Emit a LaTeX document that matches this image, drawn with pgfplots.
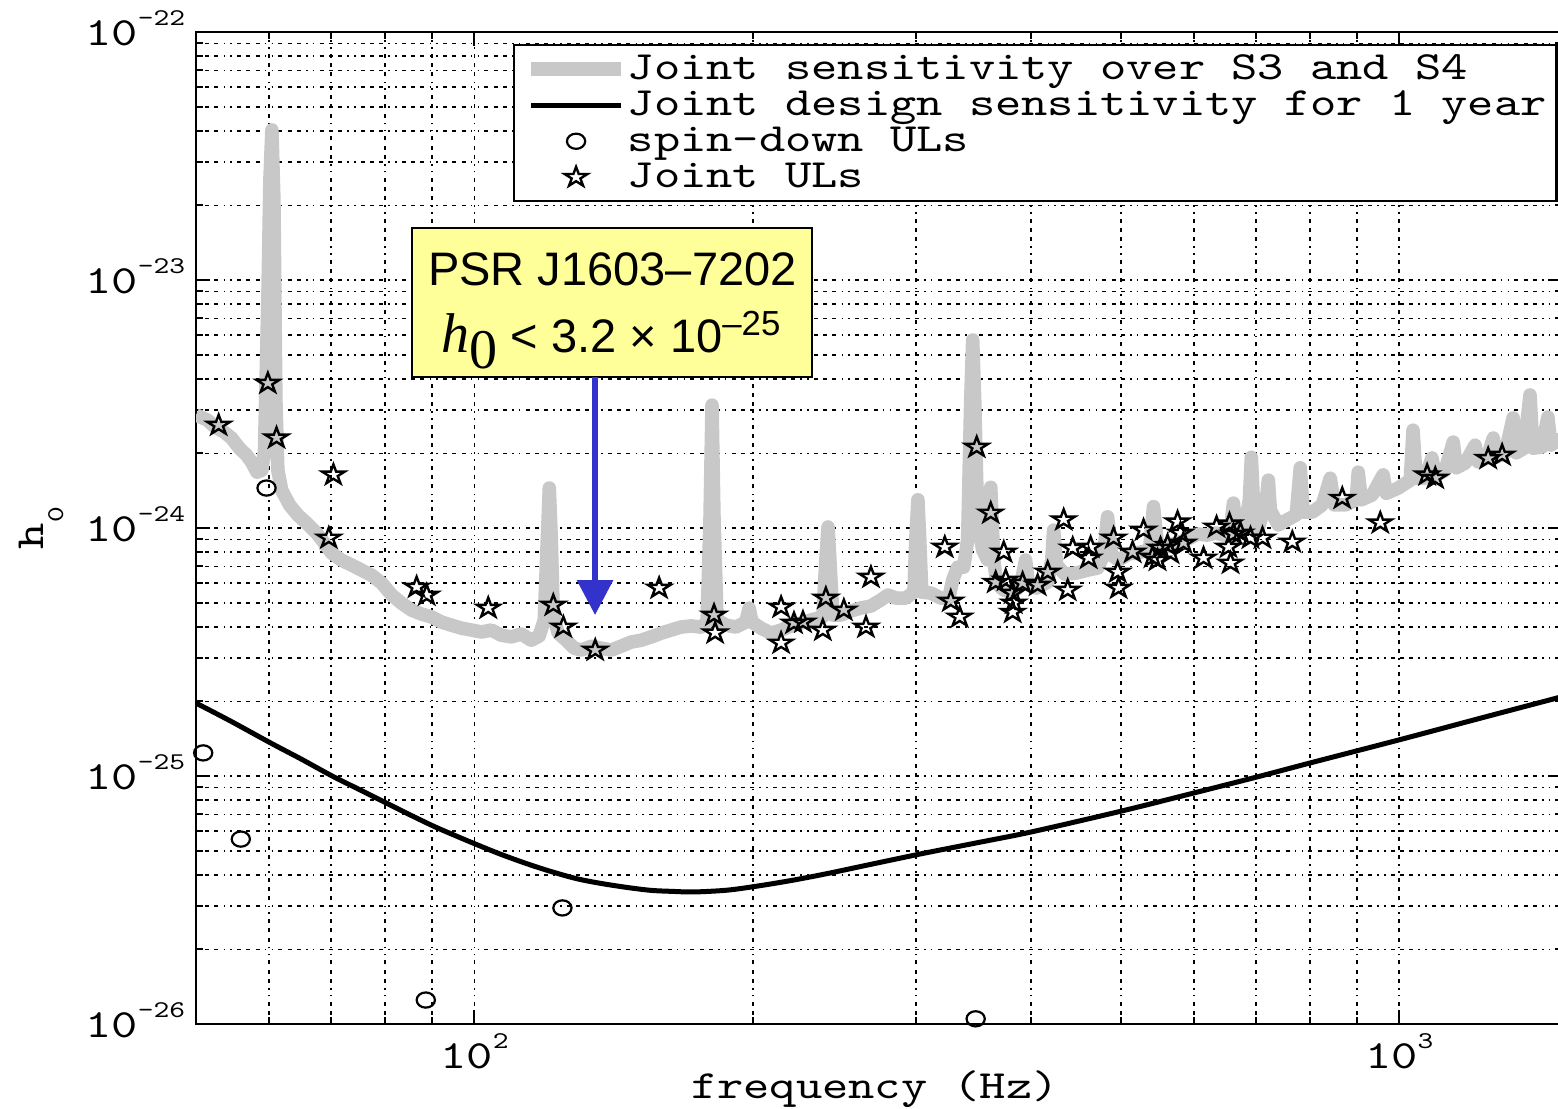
\documentclass[border=0pt]{standalone}
\usepackage{pgfplots}
\pgfplotsset{compat=1.18}
\usepackage{fontspec}
\usetikzlibrary{arrows.meta}
\newfontfamily\mono[Extension=.otf, FakeStretch=1.25]{lmmono10-regular}
\newfontfamily\arial{Liberation Sans}
\newfontfamily\timesfont{Liberation Serif}
\definecolor{sensgray}{RGB}{200,200,200}
\definecolor{boxyellow}{RGB}{255,255,153}
\definecolor{arrowblue}{RGB}{51,51,204}
\newcommand\tenpow[1]{{\mono\fontsize{10}{10}\selectfont 10\raisebox{5pt}{\fontsize{6}{6}\selectfont #1}}}
\pgfdeclareplotmark{pstar}{%
 \pgfpathmoveto{\pgfpoint{0pt}{\pgfplotmarksize}}%
 \pgfpathlineto{\pgfpoint{0.2582\pgfplotmarksize}{0.3090\pgfplotmarksize}}%
 \pgfpathlineto{\pgfpoint{1.0938\pgfplotmarksize}{0.3090\pgfplotmarksize}}%
 \pgfpathlineto{\pgfpoint{0.4178\pgfplotmarksize}{-0.1180\pgfplotmarksize}}%
 \pgfpathlineto{\pgfpoint{0.6760\pgfplotmarksize}{-0.8090\pgfplotmarksize}}%
 \pgfpathlineto{\pgfpoint{0pt}{-0.3820\pgfplotmarksize}}%
 \pgfpathlineto{\pgfpoint{-0.6760\pgfplotmarksize}{-0.8090\pgfplotmarksize}}%
 \pgfpathlineto{\pgfpoint{-0.4178\pgfplotmarksize}{-0.1180\pgfplotmarksize}}%
 \pgfpathlineto{\pgfpoint{-1.0938\pgfplotmarksize}{0.3090\pgfplotmarksize}}%
 \pgfpathlineto{\pgfpoint{-0.2582\pgfplotmarksize}{0.3090\pgfplotmarksize}}%
 \pgfpathclose\pgfusepathqstroke}
\pgfdeclareplotmark{ocirc}{%
 \pgfpathellipse{\pgfpointorigin}{\pgfpoint{1.2\pgfplotmarksize}{0pt}}{\pgfpoint{0pt}{\pgfplotmarksize}}%
 \pgfusepathqstroke}
\begin{document}
\begin{tikzpicture}
\begin{axis}[
  xmode=log, ymode=log, log basis x=10, log basis y=10,
  scale only axis, width=341.5pt, height=248pt,
  xmin=50, xmax=1500, ymin=1e-26, ymax=1e-22,
  xtick={100,1000}, xticklabels={{\tenpow{2}},{\tenpow{3}}},
  ytick={1e-26,1e-25,1e-24,1e-23,1e-22},
  yticklabels={{\tenpow{-26}},{\tenpow{-25}},{\tenpow{-24}},{\tenpow{-23}},{\tenpow{-22}}},
  minor xtick={60,70,80,90,200,300,400,500,600,700,800,900},
  minor ytick={2e-26,3e-26,4e-26,5e-26,6e-26,7e-26,8e-26,9e-26,
               2e-25,3e-25,4e-25,5e-25,6e-25,7e-25,8e-25,9e-25,
               2e-24,3e-24,4e-24,5e-24,6e-24,7e-24,8e-24,9e-24,
               2e-23,3e-23,4e-23,5e-23,6e-23,7e-23,8e-23,9e-23},
  grid=both,
  major grid style={black, line width=0.45pt, dash pattern=on 1pt off 1.3pt on 1pt off 1.3pt on 1pt off 1.3pt on 0.4pt off 1.3pt on 0.4pt off 1.3pt},
  minor grid style={black, line width=0.45pt, dash pattern=on 1pt off 1.3pt on 1pt off 1.3pt on 1pt off 1.3pt on 0.4pt off 1.3pt on 0.4pt off 1.3pt},
  tick align=inside,
  major tick length=3.6pt, minor tick length=1.8pt,
  tick style={black, line width=0.5pt},
  axis line style={line width=0.6pt},
  xticklabel style={anchor=base, inner sep=0pt, yshift=-11pt},
  yticklabel style={anchor=base east, inner sep=0pt, xshift=-2.5pt, yshift=-3.25pt},
  xlabel={\mono\fontsize{10}{10}\selectfont frequency (Hz)},
  xlabel style={at={(axis description cs:0.497,-0.0746)}, anchor=base},
  ylabel={\mono\fontsize{10}{10}\selectfont h\raisebox{-5pt}{\fontsize{6}{6}\selectfont 0}},
  ylabel style={at={(axis description cs:-0.112,0.5)}, anchor=base},
  legend cell align=left,
  legend style={at={(0.2321,0.9879)}, anchor=north west, draw=black, fill=white,
     line width=0.6pt, inner xsep=2.5pt, inner ysep=1.5pt,
     font=\mono\fontsize{10}{9}\selectfont,
     nodes={inner sep=0pt, text height=7pt, text depth=2pt},
     /tikz/every odd column/.append style={column sep=0pt}},
  legend image code/.code={\draw[mark repeat=2,mark phase=2,#1] plot coordinates {(0pt,0pt) (11.25pt,0pt) (22.5pt,0pt)};},
]
% Joint sensitivity over S3 and S4
\addplot[color=sensgray, line width=3.4pt, line join=round] coordinates {
(50,2.86e-24) (51.4,2.73e-24) (52.4,2.56e-24) (53.6,2.44e-24) (54.6,2.31e-24)
(55.7,2.10e-24) (56.7,1.97e-24) (57.4,1.85e-24) (58.2,1.68e-24) (58.9,1.71e-24)
(59.3,2.06e-24) (59.8,8.31e-24) (60.1,2.53e-23) (60.4,4.03e-23) (60.7,2.10e-23)
(61.0,3.28e-24) (61.3,1.71e-24) (61.9,1.42e-24) (63.1,1.24e-24) (64.4,1.13e-24)
(65.8,1.05e-24) (67.5,9.55e-25) (68.7,8.78e-25) (70.1,7.93e-25) (71.8,7.43e-25)
(73.7,7.09e-25) (75.5,6.77e-25) (77.4,6.46e-25) (79.4,6.00e-25) (81.4,5.37e-25)
(83.4,4.98e-25) (85.5,4.67e-25) (87.7,4.50e-25) (89.9,4.38e-25) (92.1,4.18e-25)
(94.4,4.06e-25) (96.8,3.95e-25) (99.3,3.88e-25) (101.8,3.81e-25) (104.3,3.88e-25)
(106.9,3.70e-25) (109.6,3.64e-25) (112.4,3.74e-25) (115.2,3.53e-25) (117.5,3.67e-25)
(119.0,4.26e-25) (119.9,8.94e-25) (120.5,1.45e-24) (121.1,8.94e-25) (121.7,4.46e-25)
(123.2,3.77e-25) (125.7,3.53e-25) (128.2,3.28e-25) (130.5,3.22e-25) (133.8,3.34e-25)
(137.1,3.28e-25) (140.6,3.22e-25) (144.1,3.34e-25) (147.7,3.47e-25) (151.5,3.53e-25)
(155.3,3.64e-25) (159.2,3.77e-25) (163.2,3.88e-25) (167.3,3.99e-25) (171.5,4.03e-25)
(175.8,3.99e-25) (178.5,4.18e-25) (179.8,1.08e-24) (180.7,3.13e-24) (181.6,1.08e-24)
(183.0,4.26e-25) (187.1,4.06e-25) (191.8,3.99e-25) (196.6,4.18e-25) (198.2,4.76e-25)
(199.6,4.18e-25) (204.1,3.95e-25) (209.3,3.77e-25) (214.6,3.88e-25) (220.0,4.03e-25)
(225.5,4.14e-25) (231.2,4.26e-25) (238.1,4.38e-25) (239.9,7.43e-25) (241.2,1.01e-24)
(242.3,7.43e-25) (244.1,4.46e-25) (249.0,4.46e-25) (255.3,4.63e-25) (261.7,4.76e-25)
(268.4,4.85e-25) (275.1,5.13e-25) (280.0,5.37e-25) (285.6,5.22e-25) (292.8,5.22e-25)
(298.7,5.52e-25) (300.1,8.94e-25) (301.7,1.30e-24) (303.1,8.94e-25) (304.6,5.52e-25)
(311.5,5.47e-25) (319.3,5.22e-25) (325.8,5.22e-25) (329.0,6.17e-25) (333.1,6.96e-25)
(338.1,6.96e-25) (341.5,8.94e-25) (344.1,3.28e-24) (345.8,5.73e-24) (347.5,3.28e-24)
(350.1,1.08e-24) (354.5,8.15e-25) (359.0,7.43e-25) (361.7,1.46e-24) (364.4,7.43e-25)
(367.1,6.00e-25) (373.6,5.62e-25) (383.0,5.52e-25) (389.6,5.89e-25) (394.5,7.43e-25)
(397.5,5.89e-25) (405.5,5.73e-25) (416.8,6.06e-25) (421.0,7.43e-25) (423.0,9.81e-25)
(426.2,7.09e-25) (434.8,6.52e-25) (446.8,6.58e-25) (460.4,6.77e-25) (472.0,6.90e-25)
(479.0,7.78e-25) (483.8,1.11e-24) (488.7,7.78e-25) (497.3,7.43e-25) (509.8,7.86e-25)
(525.3,8.00e-25) (537.0,8.15e-25) (542.4,1.22e-24) (547.9,8.54e-25) (560.3,8.38e-25)
(573.0,8.70e-25) (587.4,8.94e-25) (605.2,9.46e-25) (620.4,9.37e-25) (632.9,9.55e-25)
(645.5,9.37e-25) (656.9,9.81e-25) (661.8,1.26e-24) (666.8,9.81e-25) (680.1,9.81e-25)
(688.7,1.30e-24) (692.1,1.93e-24) (695.5,1.30e-24) (704.2,1.00e-24) (718.4,1.30e-24)
(722.0,1.56e-24) (725.6,1.18e-24) (740.1,1.03e-24) (756.8,1.08e-24) (774.0,1.13e-24)
(781.7,1.75e-24) (787.5,1.16e-24) (805.4,1.16e-24) (825.7,1.24e-24) (842.3,1.59e-24)
(850.8,1.24e-24) (874.4,1.24e-24) (898.6,1.30e-24) (903.0,1.68e-24) (909.9,1.30e-24)
(935.0,1.36e-24) (960.9,1.64e-24) (968.3,1.38e-24) (997.5,1.45e-24) (1028,1.56e-24)
(1035,2.48e-24) (1043,1.59e-24) (1067,1.59e-24) (1085,1.92e-24) (1094,1.62e-24)
(1121,1.71e-24) (1144,2.22e-24) (1153,1.75e-24) (1179,1.83e-24) (1208,2.16e-24)
(1217,1.85e-24) (1245,1.92e-24) (1264,2.31e-24) (1273,1.93e-24) (1302,2.01e-24)
(1328,2.78e-24) (1338,2.01e-24) (1365,2.10e-24) (1385,3.44e-24) (1395,2.10e-24)
(1427,2.12e-24) (1448,2.80e-24) (1459,2.16e-24) (1485,2.26e-24) (1500,2.30e-24)
};
\addlegendentry{Joint sensitivity over S3 and S4}
% Joint design sensitivity for 1 year
\addplot[black, line width=1.25pt, smooth] coordinates {
(50,1.97e-25) (54.6,1.66e-25) (60.2,1.36e-25) (65.0,1.17e-25) (70.2,1.00e-25)
(75.5,8.74e-26) (80.5,7.75e-26) (85.5,6.93e-26) (90.5,6.26e-26) (95.6,5.73e-26)
(100,5.34e-26) (106.9,4.83e-26) (114.4,4.41e-26) (121.1,4.12e-26) (128.9,3.86e-26)
(137.1,3.69e-26) (146.7,3.55e-26) (155.3,3.46e-26) (163.2,3.43e-26) (172.8,3.41e-26)
(188.1,3.47e-26) (204.1,3.62e-26) (221.6,3.81e-26) (241.2,4.05e-26) (261.7,4.32e-26)
(284.2,4.61e-26) (309.2,4.92e-26) (352.8,5.42e-26) (401.5,5.97e-26) (503.4,7.26e-26)
(605.2,8.62e-26) (704.2,9.95e-26) (801.4,1.13e-25) (1000,1.40e-25) (1223,1.71e-25)
(1500,2.09e-25)
};
\addlegendentry{Joint design sensitivity for 1 year}
% spin-down ULs
\addplot[only marks, mark=ocirc, mark size=1.9pt, mark options={black, line width=0.55pt, solid}] coordinates {
(59.6,1.45e-24) (50.9,1.24e-25) (55.9,5.57e-26) (124.5,2.94e-26) (88.6,1.25e-26) (348.4,1.05e-26)
};
\addlegendentry{spin-down ULs}
% Joint ULs
\addplot[only marks, mark=pstar, mark size=2.6pt, mark options={black, line width=0.6pt, solid}] coordinates {
(52.9,2.60e-24) (59.8,3.84e-24) (61.1,2.31e-24) (70.4,1.64e-24) (69.6,9.12e-25)
(86.6,5.78e-25) (88.8,5.37e-25) (103.5,4.76e-25) (121.7,4.89e-25) (124.8,3.99e-25)
(135.1,3.22e-25) (158.4,5.73e-25) (181.6,4.46e-25) (182.1,3.78e-25) (214.6,4.80e-25)
(214.6,3.44e-25) (221.6,4.14e-25) (226.6,4.18e-25) (239.9,5.22e-25) (238.1,3.88e-25)
(250.9,4.67e-25) (265.1,3.99e-25) (268.4,6.34e-25) (322.6,8.38e-25) (327.4,5.08e-25)
(334.8,4.38e-25) (349.3,2.12e-24) (361.7,1.15e-24) (373.6,8.00e-25) (366.2,6.05e-25)
(375.4,6.17e-25) (382.0,5.47e-25) (383.0,4.99e-25) (382.0,4.58e-25) (391.6,6.00e-25)
(406.5,5.89e-25) (416.8,6.65e-25) (433.7,1.08e-24) (438.1,5.62e-25) (443.6,8.30e-25)
(463.8,8.38e-25) (461.5,7.57e-25) (491.1,9.12e-25) (496.1,6.65e-25) (497.3,5.73e-25)
(514.9,8.00e-25) (529.1,9.82e-25) (541.1,7.64e-25) (552.0,8.30e-25) (561.7,8.53e-25)
(575.9,1.06e-24) (580.1,9.55e-25) (584.4,8.71e-25) (565.8,7.93e-25) (547.9,7.43e-25)
(614.4,7.57e-25) (634.6,1.01e-24) (655.4,1.04e-24) (662.0,9.46e-25) (653.8,8.38e-25)
(657.1,7.23e-25) (673.6,9.55e-25) (690.6,9.12e-25) (711.5,9.12e-25) (766.4,8.79e-25)
(867.8,1.32e-24) (953.9,1.05e-24) (1072,1.64e-24) (1094,1.59e-24) (1248,1.91e-24)
(1292,1.97e-24)
};
\addlegendentry{Joint ULs}
% annotation
\draw[fill=boxyellow, line width=0.5pt] (rel axis cs:0.1581,0.6522) rectangle (rel axis cs:0.4510,0.8024);
\node[anchor=base, inner sep=0pt, font=\arial\fontsize{11.75}{12}\selectfont] at (rel axis cs:0.3049,0.7450) {PSR J1603–7202};
\node[anchor=base, inner sep=0pt, font=\arial\fontsize{11.75}{12}\selectfont] at (rel axis cs:0.3038,0.6774)
  {{\timesfont\fontsize{14}{14}\selectfont\itshape h\/\raisebox{-4pt}{\upshape 0}} < 3.2 × 10\raisebox{4.25pt}{\fontsize{8.7}{9}\selectfont –25}};
\draw[arrowblue, line width=1.5pt, -{Triangle[width=8.75pt,length=8.75pt]}] (rel axis cs:0.2921,0.6522) -- (rel axis cs:0.2921,0.4123);
\end{axis}
\pgfresetboundingbox
\path[use as bounding box] ([shift={(-49pt,-21.25pt)}]current axis.south west) rectangle ([shift={(340.5pt,256pt)}]current axis.south west);
\end{tikzpicture}
\end{document}
